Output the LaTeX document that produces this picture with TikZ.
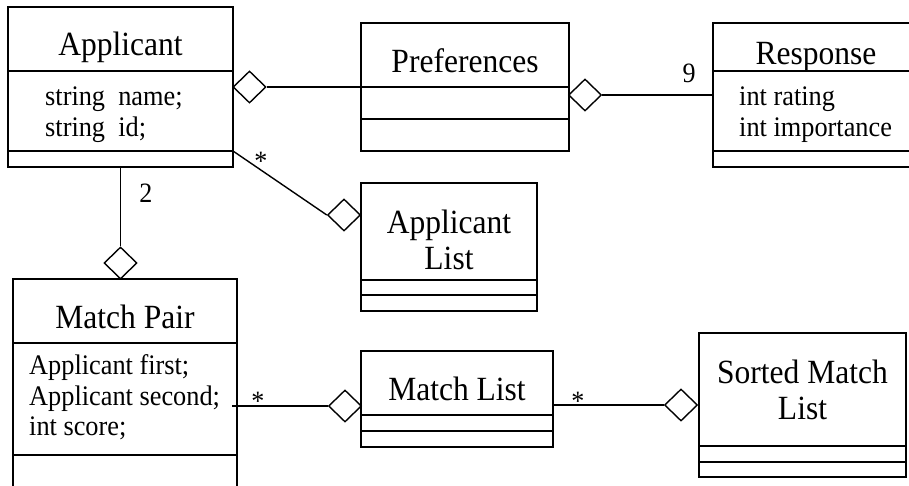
\documentclass[tikz,border=0pt]{standalone}
\usepackage{fontspec}
\setmainfont[FakeStretch=0.93]{Liberation Serif}
\usetikzlibrary{shapes.geometric}
\tikzset{
  box/.style={draw, line width=1.8pt, rectangle, inner sep=0pt},
  divider/.style={line width=1.8pt},
  conn/.style={line width=1.4pt},
  agg/.style={draw, diamond, fill=white, line width=1.4pt, inner sep=0pt, minimum width=33pt, minimum height=32pt},
  title/.style={font=\fontsize{33.9}{38}\selectfont, anchor=base, inner sep=0pt},
  attr/.style={font=\fontsize{28.3}{33}\selectfont, anchor=base west, inner sep=0pt},
  mult/.style={font=\fontsize{28}{32}\selectfont, anchor=base, inner sep=0pt},
}
\begin{document}
\begin{tikzpicture}[x=1pt,y=-1pt]
\useasboundingbox (0,0) rectangle (909,485);
% boxes
\node[box, minimum width=225pt, minimum height=160pt] (app) at (120.5,87) {};
\node[box, minimum width=208pt, minimum height=128pt] (pref) at (465,87) {};
\node[box, minimum width=206pt, minimum height=144pt] (resp) at (816,95) {};
\node[box, minimum width=176pt, minimum height=128pt] (alist) at (449,247) {};
\node[box, minimum width=224pt, minimum height=221pt] (mp) at (125,389.5) {};
\node[box, minimum width=192pt, minimum height=96pt] (mlist) at (457,399) {};
\node[box, minimum width=207pt, minimum height=144pt] (smlist) at (802.5,405) {};
% dividers
\draw[divider] (app.west |- 0,71) -- (app.east |- 0,71);
\draw[divider] (app.west |- 0,151) -- (app.east |- 0,151);
\draw[divider] (pref.west |- 0,87) -- (pref.east |- 0,87);
\draw[divider] (pref.west |- 0,119) -- (pref.east |- 0,119);
\draw[divider] (resp.west |- 0,71) -- (resp.east |- 0,71);
\draw[divider] (resp.west |- 0,151) -- (resp.east |- 0,151);
\draw[divider] (alist.west |- 0,280) -- (alist.east |- 0,280);
\draw[divider] (alist.west |- 0,295) -- (alist.east |- 0,295);
\draw[divider] (mp.west |- 0,343) -- (mp.east |- 0,343);
\draw[divider] (mp.west |- 0,455) -- (mp.east |- 0,455);
\draw[divider] (mlist.west |- 0,415) -- (mlist.east |- 0,415);
\draw[divider] (mlist.west |- 0,431) -- (mlist.east |- 0,431);
\draw[divider] (smlist.west |- 0,446) -- (smlist.east |- 0,446);
\draw[divider] (smlist.west |- 0,462) -- (smlist.east |- 0,462);
% texts
\node[title] (tapp) at (120.5,55) {Applicant};
\node[attr] (aapp1) at (45,105) {string\ \ name;};
\node[attr] (aapp2) at (45,136) {string\ \ id;};
\node[title] (tpref) at (465,72) {Preferences};
\node[title] (tresp) at (816,64) {Response};
\node[attr] (aresp1) at (739,105) {int rating};
\node[attr] (aresp2) at (739,136) {int importance};
\node[title] (talist1) at (449,233) {Applicant};
\node[title] (talist2) at (449,269) {List};
\node[title] (tmp) at (125,328) {Match Pair};
\node[attr] (amp1) at (29,374) {Applicant first;};
\node[attr] (amp2) at (29,405) {Applicant second;};
\node[attr] (amp3) at (29,435) {int score;};
\node[title] (tmlist) at (457,400) {Match List};
\node[title] (tsm1) at (802.5,383) {Sorted Match};
\node[title] (tsm2) at (802.5,419) {List};
% aggregation diamonds
\node[agg] (d1) at (249.5,87) {};
\node[agg] (d2) at (585,95) {};
\node[agg] (d3) at (344,215) {};
\node[agg] (d4) at (120.5,263) {};
\node[agg] (d5) at (345,406) {};
\node[agg] (d6) at (681,405) {};
% connector end points
\coordinate (c1) at (233,151);
\coordinate (c2) at (232,406);
% connectors
\draw[conn] (d1.east) -- (d1.east -| pref.west);
\draw[conn] (d2.east) -- (d2.east -| resp.west);
\draw[conn] (c1) -- (d3.west);
\draw[conn] (app.south) -- (d4.north);
\draw[conn] (c2) -- (d5.west);
\draw[conn] (d6.west -| mlist.east) -- (d6.west);
% multiplicities
\node[mult] (m1) at (261,170) {*};
\node[mult] (m2) at (146,202) {2};
\node[mult] (m3) at (689,82) {9};
\node[mult] (m4) at (258,410) {*};
\node[mult] (m5) at (578,410) {*};
\end{tikzpicture}
\end{document}
